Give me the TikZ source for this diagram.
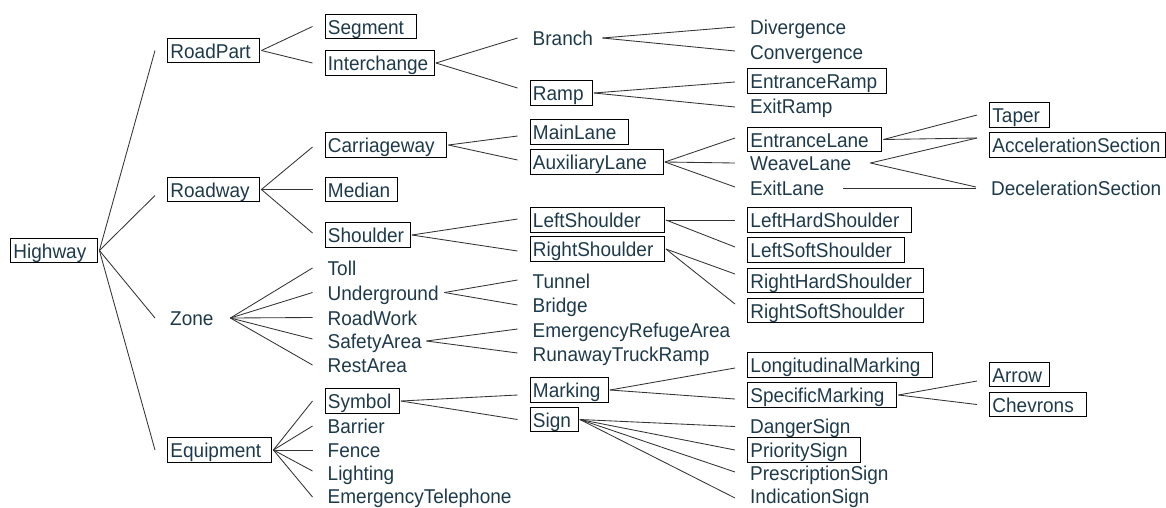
\documentclass[tikz,border=0pt]{standalone}
\usepackage{fontspec}
\setmainfont{Liberation Sans}[FakeStretch=0.95]
\definecolor{txt}{HTML}{1E3A4A}
\definecolor{lin}{HTML}{333333}
\begin{document}
\begin{tikzpicture}[x=1pt,y=-1pt,
  lbl/.style={anchor=west, inner xsep=3pt, inner ysep=0pt, text height=20pt, text depth=4.5pt,
    text=txt, align=left, font=\fontsize{20}{24}\selectfont},
  bx/.style={lbl, draw=black, line width=0.9pt},
  conn/.style={draw=lin, line width=0.85pt},
  tw/.style={text width=#1pt}]
\useasboundingbox (0,0) rectangle (1166,507);
% column 0
\node[bx,tw=81] (hw) at (10,250.5) {Highway};
% column 1
\node[bx,tw=86] (rp) at (167,50.5) {RoadPart};
\node[bx,tw=86] (rw) at (167,189.5) {Roadway};
\node[lbl,tw=55.5] (zone) at (167,318) {Zone};
\node[bx,tw=98] (eq) at (167,450) {Equipment};
% column 2
\node[bx,tw=85] (seg) at (324.5,26.5) {Segment};
\node[bx,tw=103] (ich) at (324.5,63) {Interchange};
\node[bx,tw=115.5] (cw) at (324.5,145) {Carriageway};
\node[bx,tw=66.5] (med) at (324.5,189.5) {Median};
\node[bx,tw=79] (sh) at (324.5,235) {Shoulder};
\node[lbl] (toll) at (324.5,268) {Toll};
\node[lbl,tw=112] (ug) at (324.5,292.5) {Underground};
\node[lbl] (rwk) at (324.5,317.5) {RoadWork};
\node[lbl,tw=94] (sa) at (324.5,341) {SafetyArea};
\node[lbl] (ra) at (324.5,365) {RestArea};
\node[bx,tw=68] (sym) at (324.5,401) {Symbol};
\node[lbl] (bar) at (324.5,426) {Barrier};
\node[lbl] (fen) at (324.5,450) {Fence};
\node[lbl] (lig) at (324.5,472.5) {Lighting};
\node[lbl] (et) at (324.5,495.5) {EmergencyTelephone};
% column 3
\node[lbl,tw=65] (br) at (529.5,38) {Branch};
\node[bx,tw=56] (ramp) at (529.5,93) {Ramp};
\node[bx,tw=92] (ml) at (529.5,132) {MainLane};
\node[bx,tw=127] (al) at (529.5,162) {AuxiliaryLane};
\node[bx,tw=128] (ls) at (529.5,220) {LeftShoulder};
\node[bx,tw=128] (rs) at (529.5,249) {RightShoulder};
\node[lbl] (tun) at (529.5,281) {Tunnel};
\node[lbl] (bri) at (529.5,305) {Bridge};
\node[lbl] (era) at (529.5,330) {EmergencyRefugeArea};
\node[lbl] (rtr) at (529.5,354) {RunawayTruckRamp};
\node[bx,tw=72] (mk) at (529.5,390) {Marking};
\node[bx,tw=42] (sg) at (529.5,419.5) {Sign};
% column 4
\node[lbl] (div) at (747,27) {Divergence};
\node[lbl] (conv) at (747,52) {Convergence};
\node[bx,tw=133] (er) at (747,81) {EntranceRamp};
\node[lbl] (exr) at (747,106) {ExitRamp};
\node[bx,tw=128] (el) at (747,139.5) {EntranceLane};
\node[lbl,tw=115.5] (wl) at (747,163) {WeaveLane};
\node[lbl,tw=88.5] (exl) at (747,188) {ExitLane};
\node[bx,tw=158] (lhs) at (747,220) {LeftHardShoulder};
\node[bx,tw=151] (lss) at (747,250) {LeftSoftShoulder};
\node[bx,tw=170] (rhs) at (747,280.5) {RightHardShoulder};
\node[bx,tw=170] (rss) at (747,310.5) {RightSoftShoulder};
\node[bx,tw=179] (lm) at (747,365) {LongitudinalMarking};
\node[bx,tw=143] (spm) at (747,395) {SpecificMarking};
\node[lbl] (ds) at (747,425.5) {DangerSign};
\node[bx,tw=107] (ps) at (747,450) {PrioritySign};
\node[lbl] (pres) at (747,473) {PrescriptionSign};
\node[lbl] (ind) at (747,496) {IndicationSign};
% column 5
\node[bx,tw=54] (tap) at (989,115) {Taper};
\node[bx,tw=170] (acc) at (989,145) {AccelerationSection};
\node[lbl] (dec) at (988,188) {DecelerationSection};
\node[bx,tw=54] (arr) at (989,374.5) {Arrow};
\node[bx,tw=91] (chev) at (989,404.5) {Chevrons};
% connectors
\foreach \p/\c/\d in {hw/rp/0, hw/rw/-6, hw/zone/0, hw/eq/0,
  rp/seg/0, rp/ich/0, rw/cw/-2, rw/med/0, rw/sh/2,
  zone/toll/0, zone/rwk/0, zone/ug/0, zone/sa/2, zone/ra/0,
  eq/sym/0, eq/bar/0, eq/fen/0, eq/lig/1.5, eq/et/-1.5,
  ich/br/0, ich/ramp/5, cw/ml/-4, cw/al/2, sh/ls/1, sh/rs/-2,
  ug/tun/1, ug/bri/0, sa/era/1, sa/rtr/1, sym/mk/-5, sym/sg/0,
  br/div/0, br/conv/1, ramp/er/-1, ramp/exr/-1,
  al/el/1.5, al/wl/0, al/exl/1, ls/lhs/0, ls/lss/3, rs/rhs/6.5, rs/rss/6.5,
  mk/lm/-3, mk/spm/-4, sg/ds/-1, sg/ps/0, sg/pres/1, sg/ind/-2,
  el/tap/0, el/acc/7, wl/acc/7, wl/dec/1, exl/dec/0,
  spm/arr/-6.5, spm/chev/0}
  \draw[conn] ([xshift=1.5pt]\p.east) -- ([xshift=-12pt,yshift=\d pt]\c.west);
\end{tikzpicture}
\end{document}
